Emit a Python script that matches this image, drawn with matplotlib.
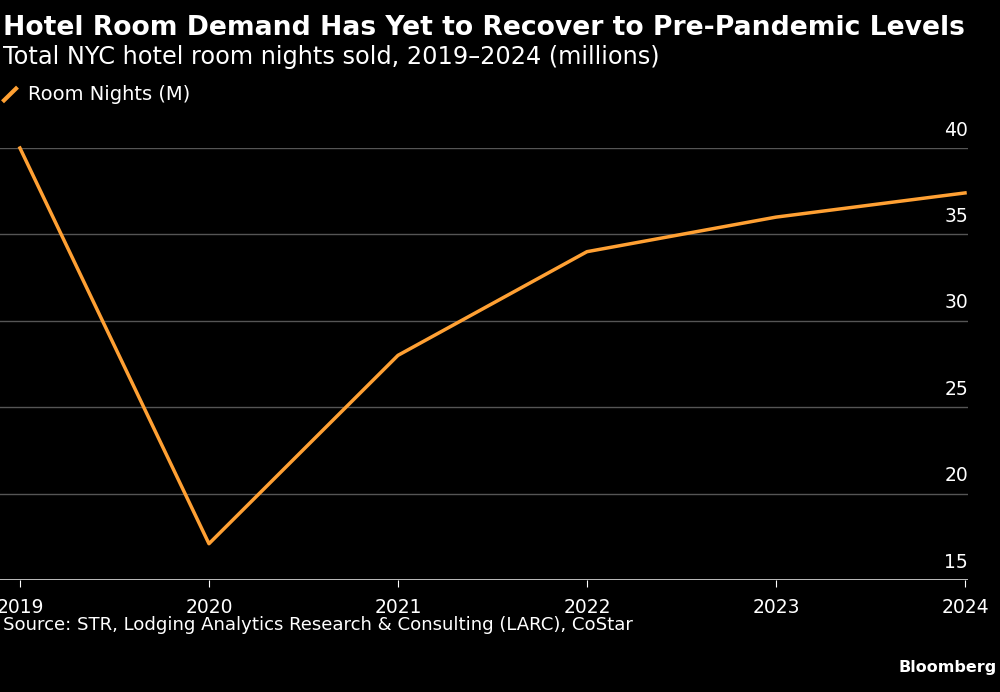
import matplotlib
matplotlib.use("Agg")
import matplotlib.pyplot as plt

years = [2019, 2020, 2021, 2022, 2023, 2024]
room_nights = [40.0, 17.1, 28.0, 34.0, 36.0, 37.4]
y_ticks = [15, 20, 25, 30, 35, 40]
series_name = "Room Nights (M)"

FF = "DejaVu Sans"
orange = "#ffa033"
fig = plt.figure(figsize=(10, 6.92), dpi=100, facecolor="black")
ax = fig.add_axes([0.0, 1 - 580/692, 0.968, (580-148)/692], facecolor="black")
ax.set_xlim(2019 - 20/189.6, 2024 + 3/189.6)
ax.set_ylim(15, 40)
for v in y_ticks:
    if v != 15:
        ax.axhline(v, color="#555555", lw=1, zorder=1)
    ax.annotate(str(v), (1.0, v), xycoords=ax.get_yaxis_transform(), xytext=(0, 6),
                textcoords="offset points", ha="right", va="bottom",
                color="white", fontsize=13.5, fontfamily=FF)
ax.axhline(15, color="#dddddd", lw=1.2, zorder=2)
ax.plot(years, room_nights, color=orange, lw=2.5, clip_on=False, zorder=3)
for s in ax.spines.values():
    s.set_visible(False)
ax.set_yticks([])
ax.set_xticks(years)
ax.set_xticklabels([str(y) for y in years], color="white", fontsize=13.5, fontfamily=FF)
ax.tick_params(axis="x", colors="white", length=5, pad=8, labelcolor="white")

fig.text(0.003, 0.978, "Hotel Room Demand Has Yet to Recover to Pre-Pandemic Levels", color="white",
         fontsize=19.2, fontweight="bold", va="top", ha="left", fontfamily=FF)
fig.text(0.003, 0.935, "Total NYC hotel room nights sold, 2019–2024 (millions)", color="white",
         fontsize=17.3, va="top", ha="left", fontfamily=FF)
fig.lines.append(plt.Line2D([0.004, 0.016], [0.855, 0.872], transform=fig.transFigure, color=orange, lw=3))
fig.text(0.028, 0.863, series_name, color="white", fontsize=14, va="center", ha="left", fontfamily=FF)
fig.text(0.003, 0.097, "Source: STR, Lodging Analytics Research & Consulting (LARC), CoStar", color="white",
         fontsize=13.1, va="center", ha="left", fontfamily=FF)
fig.text(0.997, 0.035, "Bloomberg", color="white", fontsize=11.5, fontweight="bold", va="center", ha="right",
         fontfamily=FF)
fig.savefig("out.png", dpi=100, facecolor="black")
